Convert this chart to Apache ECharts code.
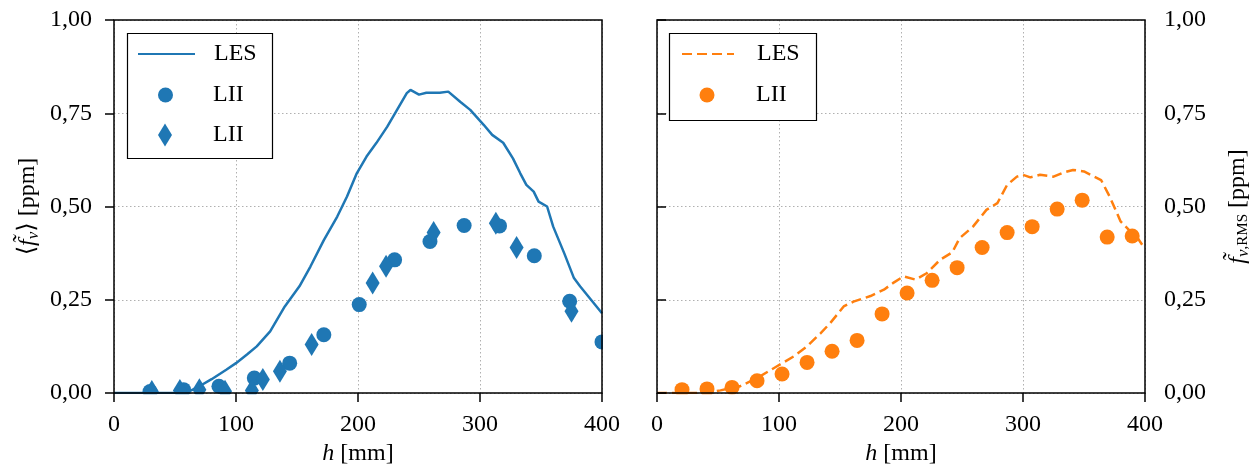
<!DOCTYPE html>
<html><head><meta charset="utf-8">
<script src="https://cdn.jsdelivr.net/npm/echarts@6/dist/echarts.min.js"></script>
<style>html,body{margin:0;padding:0;background:#fff}#c{width:1254px;height:468px}</style>
</head><body><div id="c"></div>
<script>
// ---- data ----
const lesMeanH = [0, 55, 62, 70, 80, 92, 100, 109, 117, 128, 140, 152, 161, 172, 183, 191, 199, 207, 215, 224, 232, 240, 243, 250, 256, 267, 274, 284, 292, 303, 310, 319, 327, 333, 338, 344, 348, 355, 360, 369, 377, 382, 390, 400];
const lesMeanF = [0, 0, 0.005, 0.018, 0.037, 0.0625, 0.08, 0.103, 0.125, 0.165, 0.232, 0.286, 0.339, 0.41, 0.473, 0.527, 0.589, 0.634, 0.67, 0.714, 0.759, 0.804, 0.8125, 0.80, 0.805, 0.805, 0.808, 0.78, 0.759, 0.719, 0.692, 0.671, 0.629, 0.589, 0.558, 0.54, 0.513, 0.5, 0.446, 0.375, 0.308, 0.286, 0.254, 0.214];
const liiCircH = [29.5, 57, 86, 115, 144, 172, 201, 230, 259, 287, 316, 344.5, 373.5, 400];
const liiCircF = [0.004, 0.009, 0.018, 0.04, 0.08, 0.156, 0.237, 0.357, 0.406, 0.449, 0.448, 0.368, 0.246, 0.137];
const liiDiaH = [31, 54, 70, 91, 113, 122, 136, 162, 212, 223, 262, 313, 330, 375];
const liiDiaF = [0.004, 0.007, 0.009, 0.005, 0.007, 0.036, 0.058, 0.13, 0.295, 0.34, 0.43, 0.455, 0.39, 0.219];
const lesRmsH = [0, 41, 52, 68, 82, 98, 112, 123, 134, 142, 153, 161, 175, 186, 194, 202, 212, 221, 232, 242, 248, 259, 270, 279, 287, 295, 300, 306, 314, 325, 333, 341, 350, 364, 371, 380, 388, 393, 400];
const lesRmsF = [0, 0, 0.007, 0.018, 0.04, 0.071, 0.098, 0.125, 0.16, 0.1875, 0.232, 0.245, 0.26, 0.277, 0.296, 0.3125, 0.304, 0.321, 0.357, 0.377, 0.415, 0.446, 0.491, 0.509, 0.558, 0.58, 0.585, 0.578, 0.585, 0.58, 0.591, 0.598, 0.594, 0.571, 0.527, 0.46, 0.433, 0.42, 0.386];
const liiRmsH = [20.5, 41, 61.5, 82, 102.5, 123, 143.5, 164, 184.5, 205, 225.5, 246, 266.5, 287, 307.5, 328, 348.5, 369, 389.5];
const liiRmsF = [0.009, 0.011, 0.015, 0.033, 0.051, 0.082, 0.112, 0.141, 0.212, 0.268, 0.302, 0.336, 0.39, 0.43, 0.446, 0.493, 0.517, 0.418, 0.421];
const xTickLabels = ['0', '100', '200', '300', '400'];
const yTickLabels = ['0,00', '0,25', '0,50', '0,75', '1,00'];

// ---- styling ----
const FONT = "'Liberation Serif', 'DejaVu Serif', serif";
const BLUE = '#1f77b4', ORANGE = '#ff7f0e';
const zip = (xs, ys) => xs.map((x, i) => [x, ys[i]]);
const xFmt = v => xTickLabels[Math.round(v / 100)];
const yFmt = v => yTickLabels[Math.round(v / 0.25)];

const grids = [
  {left: 114, top: 20, width: 488, height: 373},
  {left: 657, top: 20, width: 488, height: 373}
].map(g => Object.assign(g, {show: true, borderColor: '#000', borderWidth: 1.5, backgroundColor: 'transparent', z: 3,
  containLabel: false, outerBoundsMode: 'none'}));

const gridLine = {show: true, lineStyle: {color: '#b0b0b0', width: 1, type: [1.5, 2.5]}};
const tick = {show: true, length: 9, lineStyle: {color: '#000', width: 1.5}};
const lbl = {color: '#000', fontFamily: FONT, fontSize: 24};

function xAxesFor(gi) {
  return [
    {type: 'value', gridIndex: gi, min: 0, max: 400, interval: 100, position: 'top', z: 0,
     axisLine: {show: false}, axisTick: {show: false}, axisLabel: {show: false}, splitLine: gridLine},
    {type: 'value', gridIndex: gi, min: 0, max: 400, interval: 100, position: 'bottom', z: 3,
     axisLine: {show: false}, axisTick: tick, splitLine: {show: false},
     axisLabel: Object.assign({margin: 20, formatter: xFmt}, lbl),
     name: '{i|h} [mm]', nameLocation: 'middle', nameGap: 45,
     nameTextStyle: Object.assign({rich: {i: {fontStyle: 'italic', fontFamily: FONT, fontSize: 24, color: '#000'}}}, lbl)}
  ];
}
function yAxesFor(gi, side, name, rich, gap) {
  return [
    {type: 'value', gridIndex: gi, min: 0, max: 1, interval: 0.25, position: side === 'left' ? 'right' : 'left', z: 0,
     axisLine: {show: false}, axisTick: {show: false}, axisLabel: {show: false}, splitLine: gridLine},
    {type: 'value', gridIndex: gi, min: 0, max: 1, interval: 0.25, position: side, z: 3,
     axisLine: {show: false}, axisTick: tick, splitLine: {show: false},
     axisLabel: Object.assign({margin: side === 'left' ? 22 : 19, formatter: yFmt}, lbl),
     name: name, nameLocation: 'middle', nameGap: gap, nameRotate: 90,
     nameTextStyle: Object.assign({rich: rich}, lbl)}
  ];
}
const richLeft = {
  p: {fontFamily: FONT, fontSize: 24, color: '#000'},
  i: {fontFamily: FONT, fontSize: 24, fontStyle: 'italic', color: '#000'},
  s: {fontFamily: FONT, fontSize: 17, fontStyle: 'italic', color: '#000', padding: [12, 0, 0, 0]}
};
const richRight = {
  p: {fontFamily: FONT, fontSize: 24, color: '#000'},
  i: {fontFamily: FONT, fontSize: 24, fontStyle: 'italic', color: '#000'},
  s: {fontFamily: FONT, fontSize: 17, fontStyle: 'italic', color: '#000', padding: [12, 0, 0, 0]},
  r: {fontFamily: FONT, fontSize: 15, color: '#000', padding: [12, 0, 0, 0]}
};

const xAxis = xAxesFor(0).concat(xAxesFor(1));
const yAxis = yAxesFor(0, 'left', '{p|\u27E8}{i|f\u0303}{s|v}{p|\u27E9 [ppm]}', richLeft, 72)
  .concat(yAxesFor(1, 'right', '{i|f\u0303}{s|v}{r|,RMS}{p| [ppm]}', richRight, 78));

function legendItem(name, left, top, w, h, pad) {
  return {data: [name], left: left, top: top, orient: 'vertical', padding: 0, itemGap: 0,
    itemWidth: w, itemHeight: h, selectedMode: false, z: 5,
    formatter: n => n.trim(),
    textStyle: {color: '#000', fontFamily: FONT, fontSize: 24, lineHeight: 24, padding: [0, 0, 0, pad]}};
}

const option = {
  animation: false,
  backgroundColor: '#fff',
  grid: grids,
  xAxis: xAxis,
  yAxis: yAxis,
  legend: [
    legendItem('LES', 137, 42, 57, 0.1, 14),
    legendItem('LII', 158, 83, 15, 15, 35),
    legendItem('LII ', 158, 123, 14, 23, 36),
    legendItem('LES  ', 681, 42, 52, 0.1, 18),
    legendItem('LII  ', 699.5, 83, 15, 15, 36.5)
  ],
  graphic: {elements: [
    {type: 'rect', shape: {x: 0, y: 394.2, width: 1254, height: 30}, style: {fill: '#fff'}, z: 2.5, silent: true},
    {type: 'rect', shape: {x: 603, y: 0, width: 53, height: 394}, style: {fill: '#fff'}, z: 2.5, silent: true},
    {type: 'rect', shape: {x: 127.5, y: 33.5, width: 145, height: 125}, style: {fill: '#fff', stroke: '#000', lineWidth: 1.2}, z: 3.5, silent: true},
    {type: 'rect', shape: {x: 669.5, y: 33.5, width: 147, height: 87}, style: {fill: '#fff', stroke: '#000', lineWidth: 1.2}, z: 3.5, silent: true}
  ]},
  series: [
    {name: 'LES', type: 'line', xAxisIndex: 1, yAxisIndex: 1, data: zip(lesMeanH, lesMeanF),
     symbol: 'none', color: BLUE, lineStyle: {color: BLUE, width: 2.5}, z: 2},
    {name: 'LII', type: 'scatter', xAxisIndex: 1, yAxisIndex: 1, data: zip(liiCircH, liiCircF),
     symbol: 'circle', symbolSize: 15, itemStyle: {color: BLUE, opacity: 1}, z: 2},
    {name: 'LII ', type: 'scatter', xAxisIndex: 1, yAxisIndex: 1, data: zip(liiDiaH, liiDiaF),
     symbol: 'diamond', symbolSize: [14, 23], itemStyle: {color: BLUE, opacity: 1}, z: 2},
    {name: 'LES  ', type: 'line', xAxisIndex: 3, yAxisIndex: 3, data: zip(lesRmsH, lesRmsF),
     symbol: 'none', color: ORANGE, lineStyle: {color: ORANGE, width: 2.5, type: [10, 5]}, z: 2},
    {name: 'LII  ', type: 'scatter', xAxisIndex: 3, yAxisIndex: 3, data: zip(liiRmsH, liiRmsF),
     symbol: 'circle', symbolSize: 15, itemStyle: {color: ORANGE, opacity: 1}, z: 2}
  ]
};
const chart = echarts.init(document.getElementById('c'), null, {renderer: 'canvas'});
chart.setOption(option);
</script></body></html>
